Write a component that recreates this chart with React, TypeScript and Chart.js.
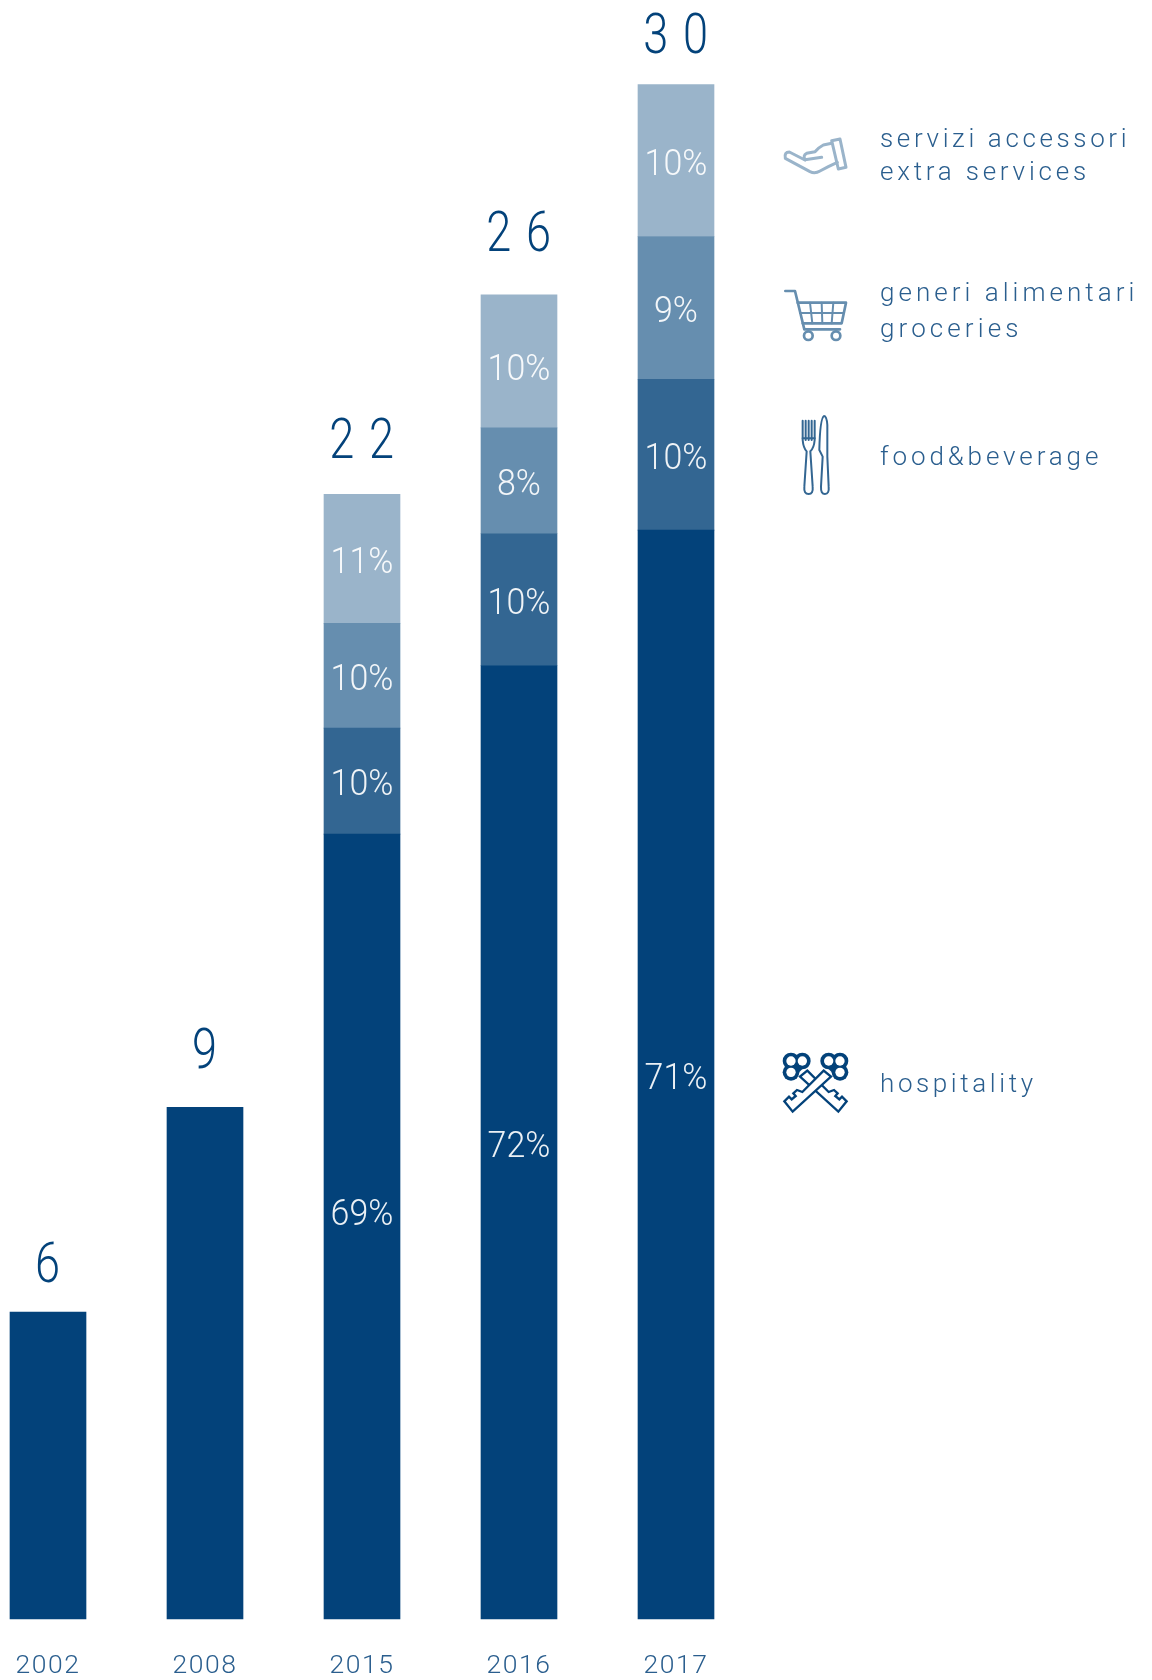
import React, { useEffect, useRef } from "react";
import { Chart, registerables } from "chart.js";

Chart.register(...registerables);

const years = ["2002", "2008", "2015", "2016", "2017"];
const hospitality = [6, 10, 15.34, 18.63, 21.28];
const foodBeverage = [null, null, 2.07, 2.58, 2.95];
const groceries = [null, null, 2.05, 2.07, 2.79];
const extraServices = [null, null, 2.52, 2.6, 2.97];
const totalLabels = ["6", "9", "22", "26", "30"];
const hospitalityPct = ["", "", "69%", "72%", "71%"];
const foodBeveragePct = ["", "", "10%", "10%", "10%"];
const groceriesPct = ["", "", "10%", "8%", "9%"];
const extraServicesPct = ["", "", "11%", "10%", "10%"];
const legendTexts = [
  "servizi accessori",
  "extra services",
  "generi alimentari",
  "groceries",
  "food&beverage",
  "hospitality",
];

const DARK = "#03427A";
const FOOD = "#336692";
const GROC = "#668EAF";
const EXTRA = "#9AB4CA";
const TEXT = "#2A5E8E";
const FONT = "Roboto, sans-serif";

const totalGaps = [50, 60, 57, 64, 52];
const legendBaselines = [147, 180, 301, 337, 465, 1092];
const legendSpacing = [3.63, 3.78, 4.03, 4.1, 3.88, 3.6];

function zoomFrame(ctx: CanvasRenderingContext2D, ox: number, oy: number) {
  ctx.translate(ox, oy);
  ctx.scale(1 / 3, 1 / 3);
  ctx.lineCap = "round";
  ctx.lineJoin = "round";
}

function narrowText(ctx: CanvasRenderingContext2D, text: string, x: number, y: number, sx: number) {
  ctx.save();
  ctx.translate(x, y);
  ctx.scale(sx, 1);
  ctx.fillText(text, 0, 0);
  ctx.restore();
}

function drawHand(ctx: CanvasRenderingContext2D) {
  ctx.save();
  zoomFrame(ctx, 760, 110);
  ctx.strokeStyle = EXTRA;
  ctx.lineWidth = 9;
  ctx.stroke(new Path2D("M215 92 L240 87 L258 172 L235 177 Z"));
  ctx.stroke(new Path2D("M215 100 L190 105 Q175 113 165 125 L140 130 Q128 136 135 149 L185 142"));
  ctx.stroke(new Path2D("M135 150 L88 126 Q72 126 76 145 L150 185 Q165 192 180 183 L205 170 L232 157"));
  ctx.restore();
}

function drawCart(ctx: CanvasRenderingContext2D) {
  ctx.save();
  zoomFrame(ctx, 760, 110);
  ctx.strokeStyle = GROC;
  ctx.lineWidth = 8;
  ctx.stroke(new Path2D("M76 543 L105 543 L133 658 L240 658"));
  ctx.stroke(new Path2D("M113 578 L258 578 L245 640 L128 640"));
  ctx.lineWidth = 6;
  ctx.stroke(new Path2D("M150 578 L157 640 M185 578 L187 640 M220 578 L215 640 M120 609 L252 609"));
  ctx.lineWidth = 8;
  ctx.stroke(new Path2D("M158 677 A13 13 0 1 1 132 677 A13 13 0 1 1 158 677 Z"));
  ctx.stroke(new Path2D("M241 677 A13 13 0 1 1 215 677 A13 13 0 1 1 241 677 Z"));
  ctx.restore();
}

function drawCutlery(ctx: CanvasRenderingContext2D) {
  ctx.save();
  zoomFrame(ctx, 760, 110);
  ctx.strokeStyle = FOOD;
  ctx.lineWidth = 6;
  ctx.stroke(new Path2D("M128 932 L128 990 Q130 1014 140 1024 L133 1130 Q131 1152 146 1152 Q160 1152 158 1130 L151 1024 Q162 1014 164 990 L164 932"));
  ctx.stroke(new Path2D("M137 932 L137 990 M146 932 L146 990 M155 932 L155 990 M128 985 L164 985"));
  ctx.stroke(new Path2D("M192 918 Q180 925 178 1020 L188 1040 L183 1130 Q182 1152 195 1152 Q208 1152 206 1130 L202 1040 L202 945 Q200 918 192 918 Z"));
  ctx.restore();
}

function drawKey(ctx: CanvasRenderingContext2D) {
  const lobes = [[93, 93], [127, 93], [93, 127]];
  const circles = (r: number, color: string) => {
    ctx.fillStyle = color;
    lobes.forEach(([x, y]) => {
      ctx.beginPath();
      ctx.arc(x, y, r, 0, Math.PI * 2);
      ctx.fill();
    });
  };
  const blade = new Path2D(
    "M142 122 L206 186 L222 180 L233 190 L226 198 L238 208 L246 200 L260 214 L235 245 L120 140 Z",
  );
  ctx.lineJoin = "miter";
  ctx.lineCap = "butt";
  ctx.fillStyle = "#ffffff";
  ctx.fill(blade);
  ctx.strokeStyle = DARK;
  ctx.lineWidth = 7;
  ctx.stroke(blade);
  circles(25, DARK);
  circles(14, "#ffffff");
  ctx.fillStyle = DARK;
  ctx.beginPath();
  ctx.moveTo(108, 108);
  ctx.lineTo(128, 116);
  ctx.lineTo(116, 128);
  ctx.closePath();
  ctx.fill();
}

function drawKeys(ctx: CanvasRenderingContext2D) {
  ctx.save();
  zoomFrame(ctx, 760, 1030);
  drawKey(ctx);
  ctx.translate(333, 0);
  ctx.scale(-1, 1);
  drawKey(ctx);
  ctx.restore();
}

const overlayPlugin = {
  id: "overlay",
  beforeDraw(chart: any) {
    chart.ctx.letterSpacing = "1.5px";
  },
  afterDraw(chart: any) {
    const ctx: CanvasRenderingContext2D & { letterSpacing: string } = chart.ctx;
    const pctSets = [hospitalityPct, foodBeveragePct, groceriesPct, extraServicesPct];
    ctx.save();
    ctx.textAlign = "center";
    ctx.textBaseline = "middle";
    ctx.fillStyle = "rgba(255,255,255,0.92)";
    ctx.font = `300 36.5px ${FONT}`;
    ctx.letterSpacing = "0px";
    pctSets.forEach((labels, d) => {
      const meta = chart.getDatasetMeta(d);
      labels.forEach((text, i) => {
        if (!text) return;
        const bar = meta.data[i];
        let nudge = 5;
        if (d === 0 && i === 2) nudge = -11;
        if (d === 3 && i === 3) nudge = 10;
        narrowText(ctx, text, bar.x, (bar.y + bar.base) / 2 + nudge, 0.93);
      });
    });

    ctx.fillStyle = DARK;
    ctx.font = `300 55px ${FONT}`;
    ctx.letterSpacing = "18px";
    const yScale = chart.scales.y;
    const top = chart.getDatasetMeta(0);
    totalLabels.forEach((text, i) => {
      const stacked = [hospitality, foodBeverage, groceries, extraServices].reduce(
        (sum, series) => sum + (series[i] ?? 0),
        0,
      );
      narrowText(ctx, text, top.data[i].x + 7, yScale.getPixelForValue(stacked) - totalGaps[i] + 6.5, 0.82);
    });

    ctx.fillStyle = TEXT;
    ctx.font = `300 26px ${FONT}`;
    ctx.textAlign = "left";
    ctx.textBaseline = "alphabetic";
    legendTexts.forEach((text, i) => {
      ctx.letterSpacing = `${legendSpacing[i]}px`;
      ctx.fillText(text, 880, legendBaselines[i]);
    });
    ctx.restore();

    drawHand(ctx);
    drawCart(ctx);
    drawCutlery(ctx);
    drawKeys(ctx);
  },
};

export default function App() {
  const ref = useRef<HTMLCanvasElement>(null);
  useEffect(() => {
    const common = { barThickness: 76, stack: "all", clip: false as const, borderWidth: 0 };
    const chart = new Chart(ref.current!, {
      type: "bar",
      data: {
        labels: years,
        datasets: [
          { label: "hospitality", data: hospitality, backgroundColor: DARK, ...common },
          { label: "food&beverage", data: foodBeverage, backgroundColor: FOOD, ...common },
          { label: "generi alimentari / groceries", data: groceries, backgroundColor: GROC, ...common },
          { label: "servizi accessori / extra services", data: extraServices, backgroundColor: EXTRA, ...common },
        ],
      },
      options: {
        responsive: false,
        animation: false,
        layout: { padding: { left: 48, right: 476, top: 84, bottom: 2 } },
        plugins: { legend: { display: false }, tooltip: { enabled: false } },
        scales: {
          x: {
            type: "category",
            stacked: true,
            offset: false,
            grid: { display: false },
            border: { display: false },
            afterFit(scale: any) {
              scale.paddingLeft = 0;
              scale.paddingRight = 0;
              scale.height = 59;
            },
            ticks: {
              autoSkip: false,
              maxRotation: 0,
              padding: 23,
              color: TEXT,
              font: { family: FONT, size: 26.5, weight: "300" },
            },
          },
          y: { display: false, stacked: true, min: 0, max: 30 },
        },
      },
      plugins: [overlayPlugin],
    } as any);
    return () => chart.destroy();
  }, []);
  return (
    <div style={{ position: "absolute", left: 0, top: 0, width: 1152, height: 1680, background: "#fff" }}>
      <canvas ref={ref} width={1152} height={1680} style={{ display: "block" }} />
    </div>
  );
}
